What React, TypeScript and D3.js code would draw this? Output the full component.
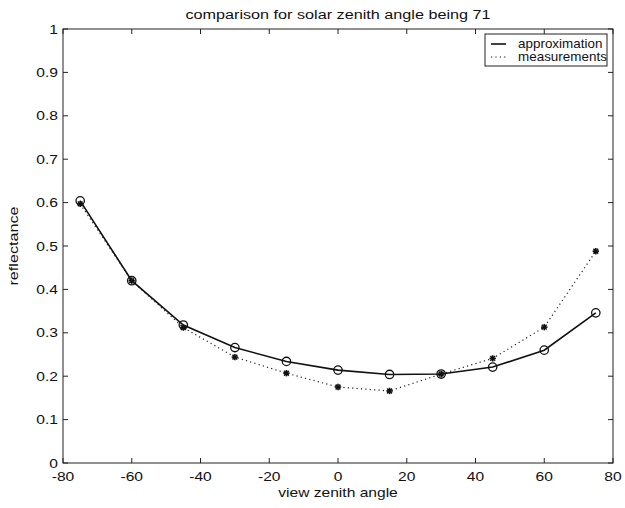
import React, { useEffect, useRef } from 'react';
import * as d3 from 'd3';

const viewAngles = [-75, -60, -45, -30, -15, 0, 15, 30, 45, 60, 75];
const approximation = [0.604, 0.42, 0.318, 0.266, 0.234, 0.214, 0.204, 0.205, 0.221, 0.26, 0.346];
const measurements = [0.597, 0.42, 0.312, 0.244, 0.207, 0.175, 0.166, 0.205, 0.241, 0.313, 0.488];
const xTicks = [-80, -60, -40, -20, 0, 20, 40, 60, 80];
const yTicks = [0, 0.1, 0.2, 0.3, 0.4, 0.5, 0.6, 0.7, 0.8, 0.9, 1];
const legendItems = ['approximation', 'measurements'];

const W = 625;
const H = 508;
const font = '"Liberation Sans", Arial, sans-serif';
const stretch = 1.2; // the reference text is drawn a bit wide

export default function App() {
    const ref = useRef<SVGSVGElement>(null);

    useEffect(() => {
        const svg = d3.select(ref.current);
        svg.selectAll('*').remove();

        const margin = { top: 29, right: 12, bottom: 45, left: 63 };
        const x = d3.scaleLinear().domain([-80, 80]).range([margin.left, W - margin.right]);
        const y = d3.scaleLinear().domain([0, 1]).range([H - margin.bottom, margin.top]);

        const g = svg.append('g');
        const tickLen = 5;

        function label(px, py, txt, anchor, size, rot = 0, sx = stretch) {
            return g
                .append('text')
                .attr('transform', `translate(${px},${py}) rotate(${rot}) scale(${sx},1)`)
                .attr('text-anchor', anchor)
                .attr('font-family', font)
                .attr('font-size', size)
                .attr('fill', '#111')
                .text(txt);
        }

        // box
        g.append('rect')
            .attr('x', x(-80))
            .attr('y', y(1))
            .attr('width', x(80) - x(-80))
            .attr('height', y(0) - y(1))
            .attr('fill', 'none')
            .attr('stroke', '#222')
            .attr('stroke-width', 1);

        // ticks point inward on all four sides
        xTicks.forEach((t) => {
            g.append('line').attr('x1', x(t)).attr('x2', x(t)).attr('y1', y(0)).attr('y2', y(0) - tickLen).attr('stroke', '#222');
            g.append('line').attr('x1', x(t)).attr('x2', x(t)).attr('y1', y(1)).attr('y2', y(1) + tickLen).attr('stroke', '#222');
            label(x(t), y(0) + 18, String(t), 'middle', 13);
        });

        yTicks.forEach((t) => {
            g.append('line').attr('x1', x(-80)).attr('x2', x(-80) + tickLen).attr('y1', y(t)).attr('y2', y(t)).attr('stroke', '#222');
            g.append('line').attr('x1', x(80)).attr('x2', x(80) - tickLen).attr('y1', y(t)).attr('y2', y(t)).attr('stroke', '#222');
            label(x(-80) - 5, y(t) + 4.5, d3.format('~g')(t), 'end', 13);
        });

        const line = d3
            .line<number>()
            .x((d, i) => x(viewAngles[i]))
            .y((d) => y(d));

        // measurements: dotted with stars
        g.append('path')
            .datum(measurements)
            .attr('d', line)
            .attr('fill', 'none')
            .attr('stroke', '#222')
            .attr('stroke-width', 1.2)
            .attr('stroke-dasharray', '1.2,3.2');

        measurements.forEach((v, i) => {
            const cx = x(viewAngles[i]);
            const cy = y(v);
            const r = 3.2;
            const star = g.append('g').attr('stroke', '#111').attr('stroke-width', 1.6);
            star.append('line').attr('x1', cx - r).attr('x2', cx + r).attr('y1', cy).attr('y2', cy);
            star.append('line').attr('x1', cx).attr('x2', cx).attr('y1', cy - r).attr('y2', cy + r);
            star.append('line').attr('x1', cx - r * 0.75).attr('x2', cx + r * 0.75).attr('y1', cy - r * 0.75).attr('y2', cy + r * 0.75);
            star.append('line').attr('x1', cx - r * 0.75).attr('x2', cx + r * 0.75).attr('y1', cy + r * 0.75).attr('y2', cy - r * 0.75);
        });

        // approximation: solid with open circles
        g.append('path')
            .datum(approximation)
            .attr('d', line)
            .attr('fill', 'none')
            .attr('stroke', '#111')
            .attr('stroke-width', 1.6);

        g.selectAll('.circ')
            .data(approximation)
            .enter()
            .append('circle')
            .attr('class', 'circ')
            .attr('cx', (d, i) => x(viewAngles[i]))
            .attr('cy', (d) => y(d))
            .attr('r', 4.2)
            .attr('fill', 'none')
            .attr('stroke', '#111')
            .attr('stroke-width', 1.3);

        // legend
        g.append('rect')
            .attr('x', 485)
            .attr('y', 34)
            .attr('width', 122)
            .attr('height', 32)
            .attr('fill', '#fff')
            .attr('stroke', '#222')
            .attr('stroke-width', 1);
        legendItems.forEach((name, i) => {
            const ly = 44 + i * 13;
            g.append('line')
                .attr('x1', 491)
                .attr('x2', 506)
                .attr('y1', ly)
                .attr('y2', ly)
                .attr('stroke', '#111')
                .attr('stroke-width', i === 0 ? 1.6 : 1.2)
                .attr('stroke-dasharray', i === 0 ? null : '1.2,3.2');
            label(518, ly + 4, name, 'start', 12, 0, 1.12);
        });

        // title and axis labels
        label((x(-80) + x(80)) / 2, 19, 'comparison for solar zenith angle being 71', 'middle', 13.5);
        label((x(-80) + x(80)) / 2, 497, 'view zenith angle', 'middle', 13);
        label(18, (y(0) + y(1)) / 2, 'reflectance', 'middle', 13.5, -90);
    }, []);

    return <svg ref={ref} width={W} height={H} style={{ position: 'absolute', left: 0, top: 0, background: '#fff' }} />;
}
